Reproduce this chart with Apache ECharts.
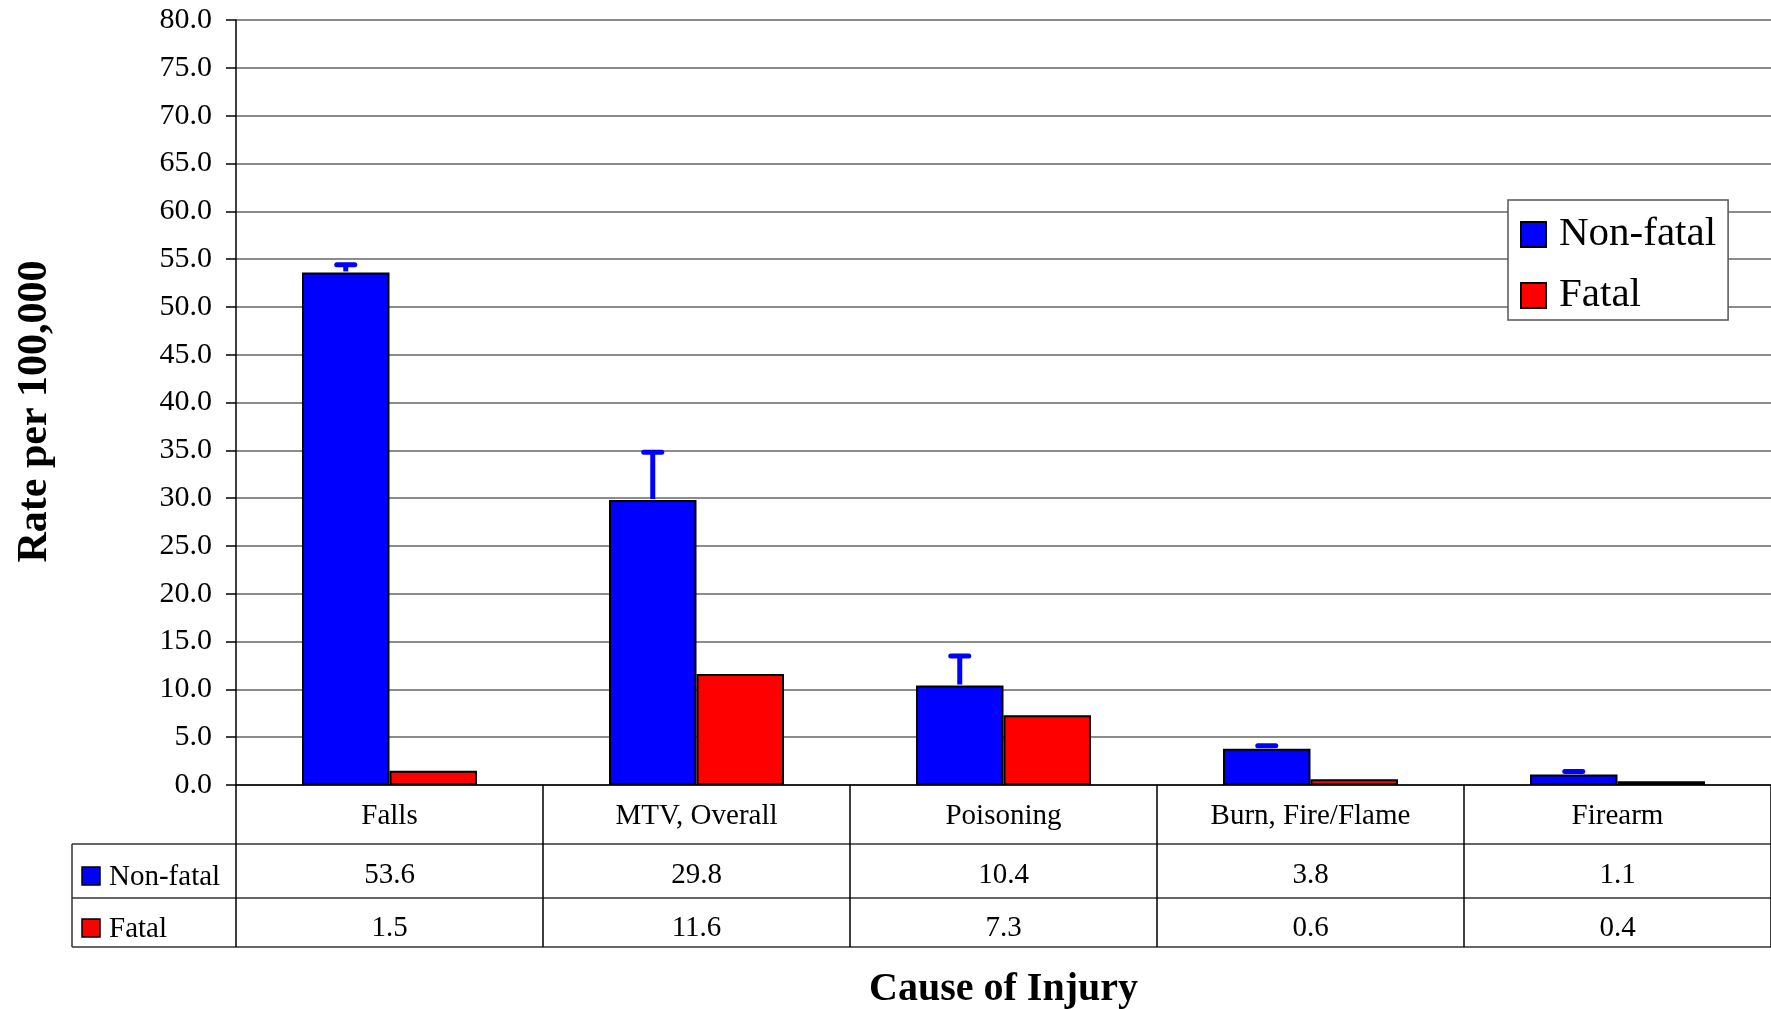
<!DOCTYPE html>
<html>
<head>
<meta charset="utf-8">
<script src="https://cdn.jsdelivr.net/npm/echarts@6/dist/echarts.min.js"></script>
<style>
html,body{margin:0;padding:0;background:#fff;}
#chart{width:1771px;height:1009px;}
</style>
</head>
<body>
<div id="chart"></div>
<script>
const categories = ['Falls', 'MTV, Overall', 'Poisoning', 'Burn, Fire/Flame', 'Firearm'];
const nonFatal = [53.6, 29.8, 10.4, 3.8, 1.1];
const fatal = [1.5, 11.6, 7.3, 0.6, 0.4];
const nonFatalUpper = [54.4, 34.8, 13.5, 4.1, 1.4];
const yTicks = {min: 0, max: 80, interval: 5};

const FONT = "'Liberation Serif', 'Times New Roman', serif";
const BLUE = '#0000FF', RED = '#FF0000';
const GAP = 0.43;

const chart = echarts.init(document.getElementById('chart'));
const errData = categories.map((c, i) => [i, nonFatal[i], nonFatalUpper[i]]);

chart.setOption({
  animation: false,
  backgroundColor: '#fff',
  grid: {left: 236, top: 20, right: 0, bottom: 224, containLabel: false, outerBoundsMode: 'none'},
  legend: {
    orient: 'vertical',
    left: 1508, top: 200,
    padding: [14, 12, 4, 12],
    itemGap: 20,
    itemWidth: 25, itemHeight: 25,
    backgroundColor: '#fff',
    borderColor: '#555', borderWidth: 1.5,
    icon: 'rect',
    textStyle: {fontFamily: FONT, fontSize: 41, color: '#000', padding: [0, 0, 0, 8]},
    data: ['Non-fatal', 'Fatal']
  },
  xAxis: {
    type: 'category',
    data: categories,
    name: 'Cause of Injury',
    nameLocation: 'middle',
    nameGap: 185,
    nameTextStyle: {fontFamily: FONT, fontSize: 40, fontWeight: 'bold', color: '#000'},
    axisLine: {lineStyle: {color: '#000', width: 1.5}},
    axisTick: {show: true, length: 162, alignWithLabel: false, lineStyle: {color: '#000', width: 1.5}},
    axisLabel: {
      interval: 0,
      margin: 0,
      fontFamily: FONT,
      color: '#000',
      formatter: function (v, i) {
        return '{c|' + v + '}\n{a|' + nonFatal[i].toFixed(1) + '}\n{b|' + fatal[i].toFixed(1) + '}';
      },
      rich: {
        c: {fontFamily: FONT, fontSize: 29, lineHeight: 59, color: '#000', padding: [4,0,0,0]},
        a: {fontFamily: FONT, fontSize: 29, lineHeight: 54, color: '#000', padding: [9,0,0,0]},
        b: {fontFamily: FONT, fontSize: 29, lineHeight: 49, color: '#000', padding: [12,0,0,0]}
      }
    }
  },
  yAxis: {
    type: 'value',
    min: yTicks.min, max: yTicks.max, interval: yTicks.interval,
    name: 'Rate per 100,000',
    nameLocation: 'middle',
    nameGap: 180,
    nameRotate: 90,
    nameTextStyle: {fontFamily: FONT, fontSize: 42, fontWeight: 'bold', color: '#000', padding: [0, 18, 0, 0]},
    axisLine: {show: true, lineStyle: {color: '#000', width: 1.5}},
    axisTick: {show: true, length: 10, lineStyle: {color: '#000', width: 1.5}},
    axisLabel: {
      margin: 24,
      fontFamily: FONT, fontSize: 30, color: '#000',
      formatter: v => v.toFixed(1)
    },
    splitLine: {show: true, lineStyle: {color: '#666', width: 1.5}}
  },
  series: [
    {
      name: 'Non-fatal', type: 'bar', data: nonFatal,
      barGap: '0%', barCategoryGap: (GAP * 100) + '%',
      itemStyle: {color: BLUE, borderColor: '#000', borderWidth: 2}
    },
    {
      name: 'Fatal', type: 'bar', data: fatal,
      barGap: '0%', barCategoryGap: (GAP * 100) + '%',
      itemStyle: {color: RED, borderColor: '#000', borderWidth: 2}
    },
    {
      name: 'err', type: 'custom', data: errData, z: 5,
      encode: {x: 0, y: [1, 2]},
      renderItem: function (params, api) {
        const idx = api.value(0);
        const band = api.size([1, 0])[0];
        const bw = band * (1 - GAP) / 2;
        const base = api.coord([idx, api.value(1)]);
        const top = api.coord([idx, api.value(2)]);
        const x = base[0] - bw / 2;
        const half = 9;
        const style = {stroke: BLUE, lineWidth: 5, lineCap: 'round'};
        return {
          type: 'group',
          children: [
            {type: 'line', shape: {x1: x, y1: base[1] - 1, x2: x, y2: top[1]}, style: {stroke: BLUE, lineWidth: 5}},
            {type: 'line', shape: {x1: x - half, y1: top[1], x2: x + half, y2: top[1]}, style: style}
          ]
        };
      }
    }
  ],
  graphic: [
    {type: 'line', shape: {x1: 72, y1: 844, x2: 1771, y2: 844}, style: {stroke: '#333', lineWidth: 1.5}},
    {type: 'line', shape: {x1: 72, y1: 898, x2: 1771, y2: 898}, style: {stroke: '#333', lineWidth: 1.5}},
    {type: 'line', shape: {x1: 72, y1: 947, x2: 1771, y2: 947}, style: {stroke: '#333', lineWidth: 1.5}},
    {type: 'line', shape: {x1: 72, y1: 844, x2: 72, y2: 947}, style: {stroke: '#333', lineWidth: 1.5}},
    {type: 'rect', shape: {x: 82, y: 867, width: 18, height: 18}, style: {fill: BLUE, stroke: '#000', lineWidth: 1.5}},
    {type: 'rect', shape: {x: 82, y: 919, width: 18, height: 18}, style: {fill: RED, stroke: '#000', lineWidth: 1.5}},
    {type: 'text', x: 109, y: 877, style: {text: 'Non-fatal', font: '29px ' + FONT, fill: '#000', textVerticalAlign: 'middle', verticalAlign: 'middle'}},
    {type: 'text', x: 109, y: 929, style: {text: 'Fatal', font: '29px ' + FONT, fill: '#000', textVerticalAlign: 'middle', verticalAlign: 'middle'}}
  ]
});
</script>
</body>
</html>
